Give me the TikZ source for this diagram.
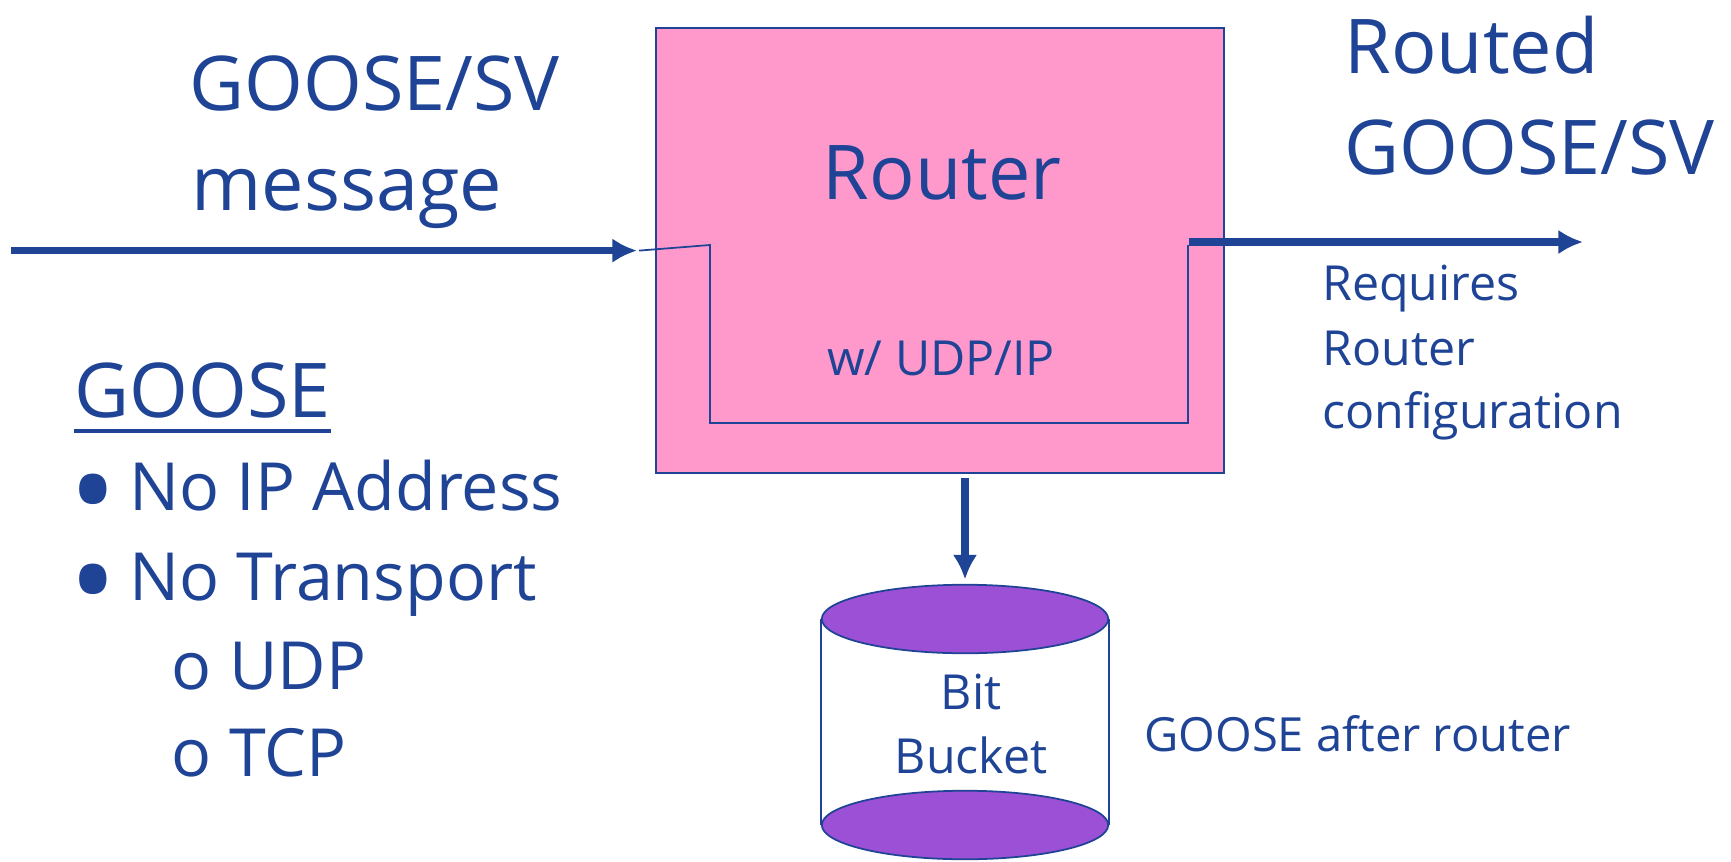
\documentclass[tikz,border=0pt]{standalone}
\usepackage{fontspec}
\setmainfont{Open Sans}
\usepackage{xcolor}
\usetikzlibrary{arrows.meta,shapes.geometric}
\definecolor{geblue}{HTML}{1F4496}
\definecolor{routerpink}{HTML}{FF99CC}
\definecolor{bucketpurple}{HTML}{9B50D5}

\begin{document}
\begin{tikzpicture}[
          x=0.2mm, y=-0.2mm,
          txt/.style={text=geblue, inner sep=0pt, anchor=base west},
          big/.style={txt, font=\fontsize{43}{52}\selectfont},
          mid/.style={txt, font=\fontsize{37.8}{45}\selectfont},
          small/.style={txt, font=\fontsize{27.5}{33}\selectfont},
          dotmark/.style={txt, font=\fontsize{72}{72}\selectfont},
          flow/.style={draw=geblue, line width=4pt, -{Latex[length=14pt,width=14pt]}},
          wire/.style={draw=geblue, line width=1pt},
          disc/.style={draw=geblue, fill=bucketpurple, line width=1pt, ellipse, inner sep=0pt, minimum width=163pt, minimum height=39pt},
        ]
          \useasboundingbox (0,0) rectangle (1731,861);
          \node[draw=geblue, fill=routerpink, line width=0.8pt, inner sep=0pt, minimum width=323.4pt, minimum height=253.2pt] (router) at (940,250.5) {};
          % path through the router
          \coordinate (inA) at (639,250.6);
          \coordinate (inB) at (710,245);
          \coordinate (inC) at (710,423);
          \coordinate (inD) at (1188,423);
          \coordinate (inE) at (1188,245);
          \draw[wire] (inA) -- (inB) -- (inC) -- (inD) -- (inE);
          % input and output
          \coordinate (srcIn) at (11,250.6);
          \coordinate (tipIn) at (637,250.6);
          \coordinate (srcOut) at (1189,242);
          \coordinate (tipOut) at (1583,242);
          \draw[flow] (srcIn) -- (tipIn);
          \draw[flow] (srcOut) -- (tipOut);
          % bucket
          \node[disc] (bucketBot) at (965,825) {};
          \node[disc] (bucketTop) at (965,619) {};
          \draw[wire] (bucketTop.west) -- (bucketBot.west);
          \draw[wire] (bucketTop.east) -- (bucketBot.east);
          \coordinate (srcDown) at (965,478);
          \draw[flow, shorten >=2.5pt] (srcDown) -- (bucketTop.north);
          % labels
          \node[big] (gooseSv) at (189,110) {GOOSE/SV};
          \node[big] (message) at (191,210) {message};
          \node[big] (routed) at (1344,73) {Routed};
          \node[big] (routedSv) at (1344,174) {GOOSE/SV};
          \node[big, anchor=base] (routerTxt) at (942,199) {Router};
          \node[small] (udp) at (827,375) {w/ UDP/IP};
          \node[small] (req) at (1322,300) {Requires};
          \node[small] (reqb) at (1322,365) {Router};
          \node[small] (reqc) at (1322,428) {configuration};
          \node[small, anchor=base] (bit) at (971,709) {Bit};
          \node[small, anchor=base] (bucket) at (971,773) {Bucket};
          \node[small, font=\fontsize{26.8}{32}\selectfont] (after) at (1144,751) {GOOSE after router};
          % list
          \node[big] (goose) at (74,417) {GOOSE};
          \draw[wire, line width=2pt] (goose.base west |- 0,431) -- (goose.base east |- 0,431);
          \node[dotmark] (b1) at (69,535) {•};
          \node[mid] (noIp) at (129,510) {No IP Address};
          \node[dotmark] (b2) at (69,625) {•};
          \node[mid] (noTr) at (129,600) {No Transport};
          \node[mid] (o1) at (171,689) {o};
          \node[mid] (udpTxt) at (229,689) {UDP};
          \node[mid] (o2) at (171,776) {o};
          \node[mid] (tcp) at (229,776) {TCP};
        \end{tikzpicture}
\end{document}
